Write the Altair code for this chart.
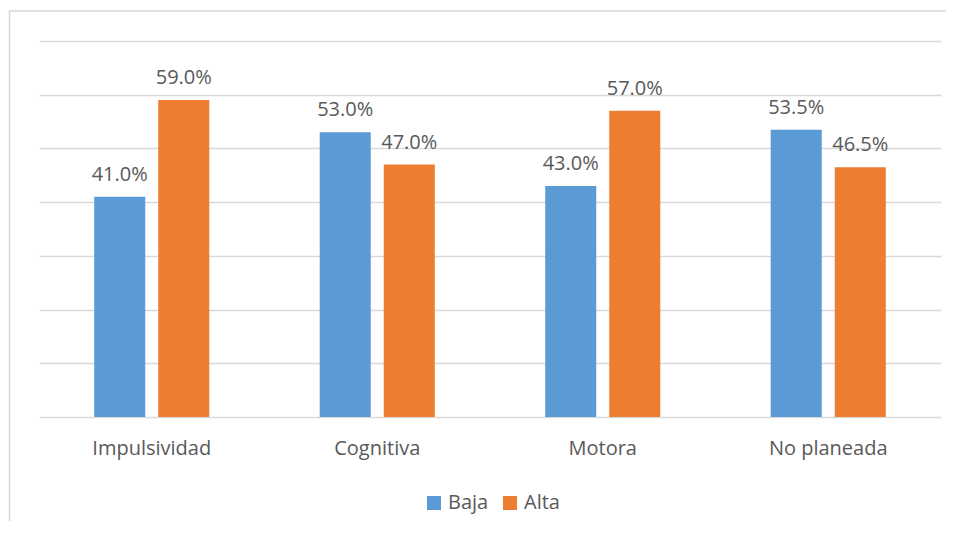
import altair as alt
import pandas as pd

categories = ["Impulsividad", "Cognitiva", "Motora", "No planeada"]
series = ["Baja", "Alta"]
baja = [41.0, 53.0, 43.0, 53.5]
alta = [59.0, 47.0, 57.0, 46.5]
colors = ["#5B9BD5", "#ED7D31"]

rows = []
for c, b, a in zip(categories, baja, alta):
    rows.append({"cat": c, "serie": "Baja", "val": b})
    rows.append({"cat": c, "serie": "Alta", "val": a})
df = pd.DataFrame(rows)
df["label"] = df["val"].map(lambda v: f"{v:.1f}%")

W, H = 902, 376
FONT = "Open Sans"
TXT = "#595959"

x = alt.X("cat:N", sort=categories, title=None,
          scale=alt.Scale(paddingInner=0, paddingOuter=0),
          axis=alt.Axis(labelAngle=0, labelFontSize=20, labelFont=FONT, labelColor=TXT,
                        domain=False, ticks=False, tickSize=0, labelPadding=21, grid=False))
xo = alt.XOffset("serie:N", sort=series,
                 scale=alt.Scale(paddingInner=0.203, paddingOuter=0.862))
y = alt.Y("val:Q", title=None,
          scale=alt.Scale(domain=[0, 70], nice=False),
          axis=alt.Axis(values=[0, 10, 20, 30, 40, 50, 60, 70], labels=False, ticks=False,
                        domain=False, grid=True, gridColor="#d9d9d9", gridWidth=1.3))
color = alt.Color("serie:N", sort=series, title=None,
                  scale=alt.Scale(domain=series, range=colors),
                  legend=alt.Legend(orient="none", legendX=385, legendY=452, direction="horizontal",
                                    symbolType="square", symbolSize=196, symbolStrokeWidth=0,
                                    labelFontSize=20, labelFont=FONT, labelColor=TXT,
                                    labelOffset=4, columnPadding=11))

frame = alt.Chart(pd.DataFrame({"a": [0]})).mark_rect(
    fill=None, stroke="#d9d9d9", strokeWidth=1.5, clip=False
).encode(x=alt.value(-29.5), x2=alt.value(W + 40), y=alt.value(-30), y2=alt.value(H + 140))

base = alt.Chart(df)
bars = base.mark_bar().encode(x=x, xOffset=xo, y=y, color=color)
labels = base.mark_text(baseline="alphabetic", dy=-16, fontSize=20, font=FONT, color=TXT).encode(
    x=x, xOffset=xo, y=y, text="label:N")

chart = alt.layer(frame, bars, labels).properties(
    width=W, height=H,
    autosize=alt.AutoSizeParams(type="none"),
    padding={"left": 31, "top": 33, "right": 5, "bottom": 104},
).configure_view(stroke=None)

chart.save("out.html", embed_options={"renderer": "svg", "actions": False})
